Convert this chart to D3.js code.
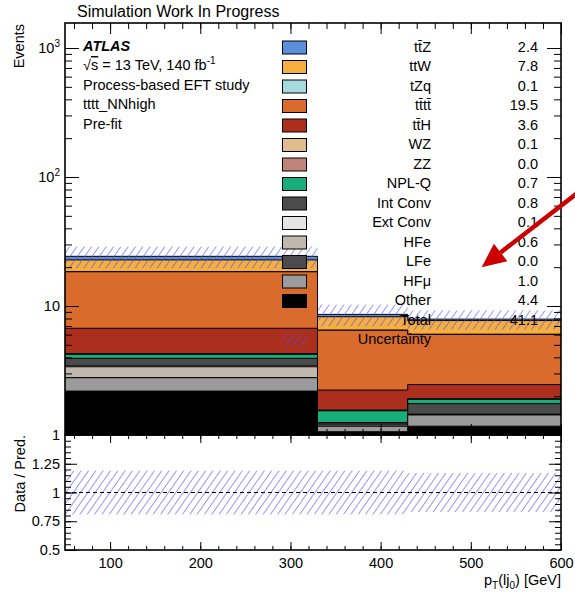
<!DOCTYPE html>
<html lang="en">

<head>
    <meta charset="UTF-8">
    <script src="https://d3js.org/d3.v7.min.js"></script>
    <title>pT(lj0) stack</title>
    <style>
        body { margin: 0; background: #fff; }
        svg text { font-family: "Liberation Sans", Arial, Helvetica, sans-serif; fill: #000; }
        .tick line { stroke: #000; stroke-width: 1px; }
        .domain { display: none; }
    </style>
</head>

<body>
    <div id="chart"></div>
    <script>
        // Bin edges in GeV
        var binEdges = [50, 330, 430, 600];

        // Per-bin yields of every process (legend order, top of the stack first)
        var ttz     = [1.50, 0.35, 0.20];
        var ttw     = [4.30, 1.76, 1.67];
        var tzq     = [0.05, 0.02, 0.02];
        var tttt    = [11.70, 4.25, 3.56];
        var tth     = [2.45, 0.67, 0.55];
        var wz      = [0.05, 0.02, 0.02];
        var zz      = [0.00, 0.00, 0.00];
        var nplq    = [0.29, 0.29, 0.14];
        var intConv = [0.50, 0.03, 0.30];
        var extConv = [0.05, 0.02, 0.02];
        var hfe     = [0.60, 0.03, 0.00];
        var lfe     = [0.00, 0.00, 0.00];
        var hfmu    = [0.59, 0.11, 0.26];
        var other   = [2.19, 1.06, 1.17];

        // Relative uncertainty per bin
        var uncRel = [0.19, 0.19, 0.17];

        // Legend names, colours and total yields
        var names = ["t\u0074\u0304Z", "ttW", "tZq", "t\u0074\u0304t\u0074\u0304", "t\u0074\u0304H", "WZ", "ZZ",
            "NPL-Q", "Int Conv", "Ext Conv", "HFe", "LFe", "HF\u03bc", "Other"];
        var colors = ["#5b8fd7", "#f5ae40", "#a6dadf", "#d96b2c", "#ac2e1c", "#e0bd8e", "#c0847a",
            "#17ae7c", "#4b4b4b", "#e5e5e5", "#c0b8ad", "#4b4b4b", "#9b9b9b", "#000000"];
        var yields = ["2.4", "7.8", "0.1", "19.5", "3.6", "0.1", "0.0", "0.7", "0.8", "0.1", "0.6", "0.0", "1.0", "4.4"];
        var totalYield = "41.1";

        // Axis ticks
        var xMajor = [100, 200, 300, 400, 500, 600];
        var xMinor = d3.range(60, 601, 20);
        var yMajor = [1, 10, 100, 1000];
        var yMajorLabels = [["1", ""], ["10", ""], ["10", "2"], ["10", "3"]];
        var rMajor = [0.5, 0.75, 1, 1.25, 1.5];
        var rLabels = ["0.5", "0.75", "1", "1.25", ""];
        var rMinor = d3.range(0.5, 1.501, 0.05);

        // Annotation arrow in data coordinates
        var arrowFrom = [618, 75];
        var arrowTo = [512, 20];

        var series = [ttz, ttw, tzq, tttt, tth, wz, zz, nplq, intConv, extConv, hfe, lfe, hfmu, other];

        // Layout
        var W = 575, H = 596;
        var padL = 65, padR = 561, padT = 23, yMid = 435, yBot = 550;
        var fs = "14.5px";

        var svg = d3.select("#chart").append("svg")
            .attr("width", W)
            .attr("height", H);

        var x = d3.scaleLinear().domain([50, 600]).range([padL, padR]);
        var y = d3.scaleLog().domain([1, Math.pow(10, 3 + 25 / 129)]).range([yMid, padT]);
        var r = d3.scaleLinear().domain([0.5, 1.5]).range([yBot, yMid]);

        var defs = svg.append("defs");
        var hatch = defs.append("pattern")
            .attr("id", "hatch")
            .attr("patternUnits", "userSpaceOnUse")
            .attr("width", 6).attr("height", 6)
            .attr("patternTransform", "rotate(35)");
        hatch.append("line")
            .attr("x1", 0).attr("y1", 0).attr("x2", 0).attr("y2", 6)
            .attr("stroke", "#4f4fff").attr("stroke-width", 1.2);

        defs.append("clipPath").attr("id", "clipMain")
            .append("rect").attr("x", padL).attr("y", padT)
            .attr("width", padR - padL).attr("height", yMid - padT);
        defs.append("clipPath").attr("id", "clipRatio")
            .append("rect").attr("x", padL).attr("y", yMid)
            .attr("width", padR - padL).attr("height", yBot - yMid);

        // Cumulative sums, from the top process down
        var nb = binEdges.length - 1;
        var cum = series.map(function (s, j) {
            return d3.range(nb).map(function (b) {
                return d3.sum(series.slice(j), function (t) { return t[b]; });
            });
        });
        var total = cum[0];

        function stepPoints(vals) {
            return binEdges.map(function (e, i) { return [e, vals[Math.min(i, nb - 1)]]; });
        }

        var area = d3.area()
            .x(function (d) { return x(d[0]); })
            .y0(yMid)
            .y1(function (d) { return y(d[1]); })
            .curve(d3.curveStepAfter);
        var line = d3.line()
            .x(function (d) { return x(d[0]); })
            .y(function (d) { return y(d[1]); })
            .curve(d3.curveStepAfter);

        var main = svg.append("g").attr("clip-path", "url(#clipMain)");

        // Stack: top process drawn first, lower ones painted over it
        cum.forEach(function (c, j) {
            main.append("path")
                .attr("d", area(stepPoints(c)))
                .attr("fill", colors[j]);
            main.append("path")
                .attr("d", line(stepPoints(c)))
                .attr("fill", "none")
                .attr("stroke", "#000")
                .attr("stroke-width", 1);
        });

        // Uncertainty band on the total
        main.selectAll(".unc")
            .data(d3.range(nb))
            .enter().append("rect")
            .attr("class", "unc")
            .attr("x", function (b) { return x(binEdges[b]); })
            .attr("width", function (b) { return x(binEdges[b + 1]) - x(binEdges[b]); })
            .attr("y", function (b) { return y(total[b] * (1 + uncRel[b])); })
            .attr("height", function (b) { return y(total[b] * (1 - uncRel[b])) - y(total[b] * (1 + uncRel[b])); })
            .attr("fill", "url(#hatch)");

        // Ratio panel
        var ratio = svg.append("g").attr("clip-path", "url(#clipRatio)");
        ratio.selectAll(".runc")
            .data(d3.range(nb))
            .enter().append("rect")
            .attr("class", "runc")
            .attr("x", function (b) { return x(binEdges[b]); })
            .attr("width", function (b) { return x(binEdges[b + 1]) - x(binEdges[b]); })
            .attr("y", function (b) { return r(1 + uncRel[b]); })
            .attr("height", function (b) { return r(1 - uncRel[b]) - r(1 + uncRel[b]); })
            .attr("fill", "url(#hatch)");
        ratio.append("line")
            .attr("x1", padL).attr("x2", padR)
            .attr("y1", r(1)).attr("y2", r(1))
            .attr("stroke", "#000").attr("stroke-width", 1)
            .attr("stroke-dasharray", "4,3");

        // Axes
        var yMinor = [];
        [1, 10, 100, 1000].forEach(function (d) {
            d3.range(2, 10).forEach(function (k) {
                if (d * k < y.domain()[1]) yMinor.push(d * k);
            });
        });

        function addAxis(axis, tx, ty) {
            return svg.append("g")
                .attr("transform", "translate(" + tx + "," + ty + ")")
                .style("font-size", fs)
                .call(axis);
        }

        // main panel y
        var yAx = addAxis(d3.axisLeft(y).tickValues(yMajor).tickSize(-14).tickPadding(5)
            .tickFormat(function () { return ""; }), padL, 0);
        yAx.selectAll(".tick text").each(function (d, i) {
            var t = d3.select(this);
            t.append("tspan").text(yMajorLabels[i][0]);
            if (yMajorLabels[i][1]) {
                t.append("tspan").attr("dy", -6).style("font-size", "10px").text(yMajorLabels[i][1]);
            }
        });
        addAxis(d3.axisLeft(y).tickValues(yMinor).tickSize(-7).tickFormat(""), padL, 0);
        addAxis(d3.axisRight(y).tickValues(yMajor).tickSize(-14).tickFormat(""), padR, 0);
        addAxis(d3.axisRight(y).tickValues(yMinor).tickSize(-7).tickFormat(""), padR, 0);

        // main panel x (no labels)
        addAxis(d3.axisTop(x).tickValues(xMajor).tickSize(-11).tickFormat(""), 0, padT);
        addAxis(d3.axisTop(x).tickValues(xMinor).tickSize(-6).tickFormat(""), 0, padT);
        addAxis(d3.axisBottom(x).tickValues(xMajor).tickSize(-11).tickFormat(""), 0, yMid);
        addAxis(d3.axisBottom(x).tickValues(xMinor).tickSize(-6).tickFormat(""), 0, yMid);

        // ratio panel
        addAxis(d3.axisLeft(r).tickValues(rMajor).tickSize(-12).tickPadding(5)
            .tickFormat(function (d, i) { return rLabels[i]; }), padL, 0);
        addAxis(d3.axisLeft(r).tickValues(rMinor).tickSize(-6).tickFormat(""), padL, 0);
        addAxis(d3.axisRight(r).tickValues(rMajor).tickSize(-12).tickFormat(""), padR, 0);
        addAxis(d3.axisRight(r).tickValues(rMinor).tickSize(-6).tickFormat(""), padR, 0);
        addAxis(d3.axisBottom(x).tickValues(xMajor).tickSize(-8).tickPadding(8)
            .tickFormat(d3.format("d")), 0, yBot);
        addAxis(d3.axisBottom(x).tickValues(xMinor).tickSize(-4).tickFormat(""), 0, yBot);
        addAxis(d3.axisTop(x).tickValues(xMajor).tickSize(-8).tickFormat(""), 0, yMid);
        addAxis(d3.axisTop(x).tickValues(xMinor).tickSize(-4).tickFormat(""), 0, yMid);

        svg.selectAll("g").attr("font-family", null);

        // Frames
        svg.append("rect")
            .attr("x", padL).attr("y", padT)
            .attr("width", padR - padL).attr("height", yMid - padT)
            .attr("fill", "none").attr("stroke", "#000").attr("stroke-width", 1.6);
        svg.append("rect")
            .attr("x", padL).attr("y", yMid)
            .attr("width", padR - padL).attr("height", yBot - yMid)
            .attr("fill", "none").attr("stroke", "#000").attr("stroke-width", 1.6);

        // Axis titles
        svg.append("text")
            .attr("transform", "translate(24," + (padT + 1) + ") rotate(-90)")
            .attr("text-anchor", "end")
            .style("font-size", fs)
            .text("Events");
        svg.append("text")
            .attr("transform", "translate(25," + yMid + ") rotate(-90)")
            .attr("text-anchor", "end")
            .style("font-size", fs)
            .text("Data / Pred.");
        var xt = svg.append("text")
            .attr("x", padR).attr("y", 585)
            .attr("text-anchor", "end")
            .style("font-size", fs);
        xt.append("tspan").text("p");
        xt.append("tspan").attr("dy", 4).style("font-size", "10px").text("T");
        xt.append("tspan").attr("dy", -4).text("(lj");
        xt.append("tspan").attr("dy", 4).style("font-size", "10px").text("0");
        xt.append("tspan").attr("dy", -4).text(") [GeV]");

        // Header texts
        svg.append("text")
            .attr("x", 77).attr("y", 17)
            .style("font-size", "16px")
            .text("Simulation Work In Progress");

        var info = svg.append("g").style("font-size", fs);
        info.append("text")
            .attr("x", 83).attr("y", 50.5)
            .style("font-weight", "bold").style("font-style", "italic")
            .text("ATLAS");
        var energy = info.append("text").attr("x", 83).attr("y", 70);
        energy.append("tspan").text("\u221a");
        energy.append("tspan").style("text-decoration", "overline").text("s");
        energy.append("tspan").text(" = 13 TeV, 140 fb");
        energy.append("tspan").attr("dy", -6).style("font-size", "10px").text("-1");
        info.append("text").attr("x", 83).attr("y", 89.5).text("Process-based EFT study");
        info.append("text").attr("x", 83).attr("y", 109).text("tttt_NNhigh");
        info.append("text").attr("x", 83).attr("y", 128.5).text("Pre-fit");

        // Legend
        var legY0 = 51.5, legDy = 19.5;
        var leg = svg.append("g").style("font-size", fs);
        names.forEach(function (n, i) {
            var yy = legY0 + i * legDy;
            leg.append("rect")
                .attr("x", 282.5).attr("y", yy - 10.5)
                .attr("width", 24).attr("height", 13)
                .attr("fill", colors[i]).attr("stroke", "#000").attr("stroke-width", 1);
            leg.append("text").attr("x", 431).attr("y", yy)
                .attr("text-anchor", "end").text(n);
            leg.append("text").attr("x", 538).attr("y", yy)
                .attr("text-anchor", "end").text(yields[i]);
        });
        var yTot = legY0 + names.length * legDy;
        leg.append("text").attr("x", 431).attr("y", yTot).attr("text-anchor", "end").text("Total");
        leg.append("text").attr("x", 538).attr("y", yTot).attr("text-anchor", "end").text(totalYield);
        var yUnc = yTot + legDy;
        leg.append("rect")
            .attr("x", 282.5).attr("y", yUnc - 10.5)
            .attr("width", 24).attr("height", 13)
            .attr("fill", "url(#hatch)");
        leg.append("text").attr("x", 431).attr("y", yUnc).attr("text-anchor", "end").text("Uncertainty");

        // Red arrow
        var ax0 = x(arrowFrom[0]), ay0 = y(arrowFrom[1]);
        var ax1 = x(arrowTo[0]), ay1 = y(arrowTo[1]);
        var ang = Math.atan2(ay1 - ay0, ax1 - ax0);
        var headL = 24, headW = 11;
        var bx = ax1 - headL * Math.cos(ang), by = ay1 - headL * Math.sin(ang);
        svg.append("line")
            .attr("x1", ax0).attr("y1", ay0)
            .attr("x2", bx).attr("y2", by)
            .attr("stroke", "#cc0000").attr("stroke-width", 4.5);
        svg.append("path")
            .attr("d", d3.line()([
                [ax1, ay1],
                [bx - headW * Math.sin(ang), by + headW * Math.cos(ang)],
                [bx + headW * Math.sin(ang), by - headW * Math.cos(ang)]
            ]) + "Z")
            .attr("fill", "#cc0000");
    </script>
</body>

</html>
